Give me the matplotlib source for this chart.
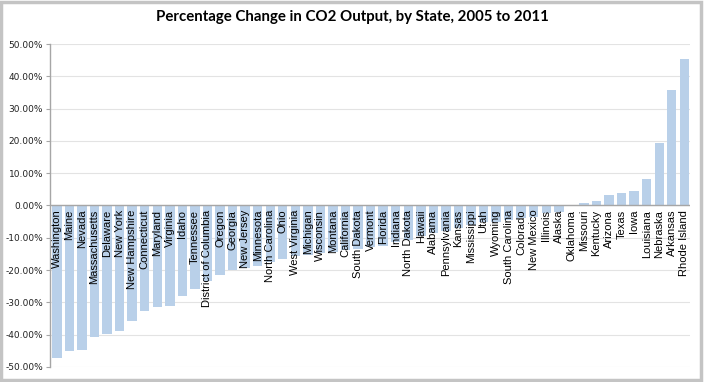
import matplotlib.pyplot as plt
from matplotlib.patches import Rectangle
from matplotlib.ticker import FuncFormatter

# states sorted by percentage change in CO2 output, 2005 to 2011
states = ['Washington', 'Maine', 'Nevada', 'Massachusetts', 'Delaware',
          'New York', 'New Hampshire', 'Connecticut', 'Maryland', 'Virginia',
          'Idaho', 'Tennessee', 'District of Columbia', 'Oregon', 'Georgia',
          'New Jersey', 'Minnesota', 'North Carolina', 'Ohio', 'West Virginia',
          'Michigan', 'Wisconsin', 'Montana', 'California', 'South Dakota',
          'Vermont', 'Florida', 'Indiana', 'North Dakota', 'Hawaii',
          'Alabama', 'Pennsylvania', 'Kansas', 'Mississippi', 'Utah',
          'Wyoming', 'South Carolina', 'Colorado', 'New Mexico', 'Illinois',
          'Alaska', 'Oklahoma', 'Missouri', 'Kentucky', 'Arizona',
          'Texas', 'Iowa', 'Louisiana', 'Nebraska', 'Arkansas', 'Rhode Island']

change = [-47.3, -45.2, -44.6, -40.8, -39.7,
          -38.8, -35.9, -32.8, -31.3, -31.2,
          -27.9, -26.0, -23.5, -21.4, -20.0,
          -19.2, -18.6, -17.5, -16.5, -15.6,
          -15.2, -14.8, -14.5, -13.8, -13.4,
          -13.0, -12.6, -11.2, -10.6, -9.5,
          -8.5, -7.8, -6.9, -5.9, -5.2,
          -5.0, -4.5, -3.9, -3.5, -2.4,
          -2.0, -0.2, 0.8, 1.4, 3.1,
          3.9, 4.5, 8.2, 19.3, 35.7, 45.5]

yticks = [-50, -40, -30, -20, -10, 0, 10, 20, 30, 40, 50]

fig = plt.figure(figsize=(7.05, 3.82), dpi=100)
ax = fig.add_axes([0.0709, 0.0393, 0.9078, 0.8455])

x = range(len(states))
ax.bar(x, change, width=0.75, color='#b9d0e9', zorder=2)

# state names just below the zero line
for i, name in enumerate(states):
    ax.annotate(name, (i, 0), xytext=(0, -3), textcoords='offset points',
                rotation=90, ha='center', va='top', fontsize=8,
                family='Liberation Sans', color='black', zorder=3)

ax.set_xlim(-0.55, 50.45)
ax.set_ylim(-50, 50)
ax.set_yticks(yticks)
ax.yaxis.set_major_formatter(FuncFormatter(lambda v, p: '%.2f%%' % v))
ax.tick_params(axis='y', labelsize=6.5, length=3, width=0.8,
               color='#a6a6a6', labelcolor='#222222', pad=2)
ax.tick_params(axis='x', bottom=False, labelbottom=False)
ax.grid(axis='y', color='#e3e3e3', lw=0.8, zorder=0)
ax.axhline(0, color='#a6a6a6', lw=1.0, zorder=2.5)

for s in ['top', 'right', 'bottom']:
    ax.spines[s].set_visible(False)
ax.spines['left'].set_color('#a6a6a6')
ax.spines['left'].set_linewidth(1.0)

fig.text(0.5, 0.955, 'Percentage Change in CO2 Output, by State, 2005 to 2011',
         ha='center', va='center', fontsize=10.8, fontweight='bold',
         family='Lato')

# chart border
fig.patches.append(Rectangle((0.002, 0.004), 0.993, 0.992,
                             transform=fig.transFigure, fill=False,
                             edgecolor='#c4c4c4', lw=2.5))

fig.savefig('out.png', dpi=100)
